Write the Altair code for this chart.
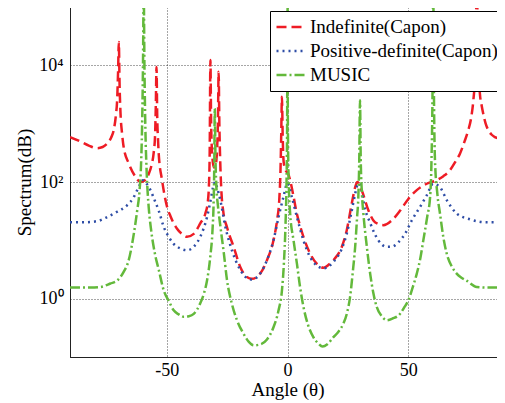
import altair as alt
import pandas as pd

series_names = ["Indefinite(Capon)", "Positive-definite(Capon)", "MUSIC"]
colors = ["#ee1c25", "#2e4da6", "#63b93b"]
dashes = [[10, 5], [2, 4], [10, 3, 2, 3]]

x_ticks = [-50, 0, 50]
y_ticks = [1, 100, 10000]

# Indefinite (Capon): angle (deg) and log10 of spectrum
red_angle = [-90, -86, -82, -78.8, -76.5, -74.6, -73, -71.9, -71, -70.5, -70.1, -69.8, -69.5, -69.1,
             -68.5, -67.8, -65.7, -62.9, -60.9, -59, -57.4, -56.2, -55.4, -54.8, -54.5, -54.2, -53.9,
             -53.6, -53.3, -51.9, -49.8, -48.5, -45.7, -43.0, -41.6, -38.8, -36.1, -34.0, -33.0, -32.5,
             -32.2, -31.9, -31.6, -31.2, -30.5, -29.7, -29.1, -28.8, -28.5, -28.2, -27.8, -27.3, -26.6,
             -25.0, -22.3, -19.5, -16.8, -14.7, -11.3, -8.5, -5.8, -4.3, -3.4, -2.9, -2.6, -2.3, -2.0,
             -1.6, -0.8, 0.2, 1.1, 2.5, 3.9, 5.2, 6.6, 9.4, 12.1, 14.9, 17.0, 19.0, 22.5, 24.5, 26.6,
             28.0, 28.9, 30.7, 33.5, 36.2, 39.7, 43.1, 46.6, 50.0, 53.5, 57.6, 61.7, 64.5, 67.2, 69.5,
             71.4, 73.3, 74.8, 76.0, 76.9, 77.7, 78.3, 79.0, 79.6, 80.3, 81.0, 82.0, 83.1, 84.5, 85.8,
             87.5, 90]
red_exp = [2.77, 2.70, 2.62, 2.58, 2.60, 2.66, 2.76, 2.89, 3.15, 3.40, 3.90, 4.40, 3.70, 3.18,
           2.85, 2.60, 2.32, 2.09, 2.00, 2.03, 2.14, 2.30, 2.49, 2.80, 3.30, 3.97, 3.10,
           2.75, 2.49, 2.03, 1.57, 1.42, 1.20, 1.09, 1.06, 1.11, 1.29, 1.46, 1.65, 1.95,
           2.50, 4.09, 3.00, 2.50, 2.25, 2.30, 2.60, 3.00, 3.89, 3.00, 2.30, 1.80, 1.50,
           1.22, 0.89, 0.54, 0.37, 0.34, 0.43, 0.66, 1.00, 1.35, 1.70, 2.20, 2.80, 3.46, 2.80,
           2.35, 2.20, 2.15, 2.03, 1.75, 1.45, 1.25, 1.06, 0.77, 0.60, 0.53, 0.58, 0.66, 0.89, 1.17, 1.63,
           1.91, 2.00, 1.86, 1.51, 1.31, 1.26, 1.34, 1.51, 1.71, 1.86, 1.97, 2.03, 2.10, 2.20, 2.35,
           2.49, 2.70, 2.89, 3.10, 3.40, 3.90, 5.30, 4.00, 3.52, 3.32, 3.17, 3.00, 2.89, 2.81, 2.77,
           2.75, 2.74]

# Positive-definite (Capon)
blue_angle = [-90, -84, -78.6, -74.6, -70.5, -66.4, -63.5, -62.2, -61.0, -59.8, -58.5, -56.7, -55.0,
              -53.3, -51.2, -49.0, -47.1, -44.3, -41.6, -38.8, -36.1, -33.3, -31.8, -30.8, -30.0,
              -29.2, -27.8, -25.7, -23.0, -19.5, -16.1, -14.7, -11.3, -8.5, -5.8, -3.7, -1.7, 0.0,
              1.8, 3.9, 6.6, 9.4, 12.1, 14.9, 19.0, 22.5, 24.5, 26.6, 28.0, 29.3, 30.7, 31.6, 34.2,
              37.6, 41.1, 43.1, 45.9, 48.6, 51.4, 54.8, 57.6, 60.3, 63.1, 65.9, 70.0, 75.5, 82.4, 90]
blue_exp = [1.31, 1.31, 1.33, 1.40, 1.49, 1.60, 1.75, 1.86, 1.96, 2.03, 1.98, 1.86, 1.69,
            1.51, 1.23, 1.05, 0.94, 0.86, 0.83, 0.89, 1.06, 1.40, 1.69, 1.91, 2.00,
            1.91, 1.69, 1.23, 0.83, 0.49, 0.34, 0.33, 0.43, 0.66, 1.00, 1.40, 1.74, 1.98,
            1.74, 1.40, 1.00, 0.71, 0.57, 0.52, 0.63, 0.86, 1.11, 1.51, 1.80, 1.98, 1.86, 1.63, 1.30,
            1.00, 0.89, 0.89, 0.97, 1.11, 1.34, 1.57, 1.77, 1.97, 1.91, 1.69, 1.46, 1.36, 1.31, 1.31]

# MUSIC
green_angle = [-90, -81.5, -77.4, -73.3, -70.5, -67.8, -65.7, -63.6, -62.2, -61.2, -60.6, -60.2,
               -59.8, -59.5, -59.2, -58.8, -58.3, -57.4, -56.5, -55.0, -53.3, -51.2, -49.0, -47.1,
               -45.0, -43.0, -40.8, -38.8, -36.1, -34.5, -33.3, -32.0, -31.0, -30.6, -30.3, -30.1,
               -29.8, -29.4, -28.8, -27.8, -26.4, -25.0, -23.0, -20.9, -18.2, -16.0, -14.0, -11.0,
               -8.5, -5.8, -3.7, -2.3, -1.5, -0.8, -0.4, -0.15, 0.0, 0.15, 0.5, 1.1, 2.5, 3.9, 5.2,
               6.6, 8.5, 10.7, 12.8, 14.5, 16.5, 19.0, 21.0, 23.1, 24.6, 25.9, 27.0, 28.0, 28.8,
               29.3, 29.7, 30.0, 30.3, 30.8, 31.4, 32.8, 34.2, 35.5, 36.9, 39.0, 41.1, 43.5, 46.6,
               48.3, 50.0, 51.7, 53.5, 55.0, 56.2, 57.8, 59.0, 59.6, 60.0, 60.3, 60.6, 61.0, 62.0,
               63.1, 64.5, 65.9, 68.0, 70.0, 72.0, 74.1, 78.3, 84.0, 90]
green_exp = [0.19, 0.19, 0.20, 0.26, 0.31, 0.46, 0.66, 1.11, 1.51, 1.86, 2.30, 2.90,
             4.00, 5.30, 4.00, 2.90, 2.20, 1.55, 1.20, 0.80, 0.50, 0.14, -0.05, -0.20,
             -0.27, -0.31, -0.30, -0.26, -0.08, 0.10, 0.31, 0.70, 1.20, 1.60, 2.30, 3.26,
             2.40, 1.90, 1.60, 1.25, 0.80, 0.31, -0.09, -0.37, -0.60, -0.74, -0.80, -0.78,
             -0.70, -0.49, -0.20, 0.14, 0.60, 1.30, 2.00, 3.00, 5.30, 3.00, 2.00, 1.46, 1.00, 0.60, 0.20,
             -0.14, -0.45, -0.66, -0.77, -0.82, -0.78, -0.66, -0.57, -0.43, -0.25, 0.03, 0.45, 0.89, 1.40,
             1.74, 2.40, 3.40, 2.40, 1.80, 1.46, 0.90, 0.43, 0.10, -0.14, -0.30, -0.37, -0.34, -0.26,
             -0.15, -0.03, 0.18, 0.43, 0.70, 1.00, 1.40, 1.74, 2.40, 3.50, 5.30, 3.50, 2.40, 1.80,
             1.46, 1.05, 0.77, 0.55, 0.43, 0.36, 0.31, 0.20, 0.19, 0.19]

rows = []
for name, angs, exps in zip(series_names,
                            [red_angle, blue_angle, green_angle],
                            [red_exp, blue_exp, green_exp]):
    for a, e in zip(angs, exps):
        rows.append({"angle": a, "spectrum": 10 ** e, "series": name})
df = pd.DataFrame(rows)

font = "Liberation Serif"

legend_opts = dict(
    title=None, orient="none", legendX=200, legendY=4,
    strokeColor="#000", fillColor="#fff", padding=5, cornerRadius=0,
    labelFont=font, labelFontSize=19, labelColor="#000", labelLimit=400,
    symbolType="stroke", symbolSize=841, symbolStrokeWidth=2.5,
    labelOffset=3, clipHeight=22, rowPadding=2,
)

base = alt.Chart(df).mark_line(strokeWidth=2.5, clip=True, interpolate="monotone").encode(
    x=alt.X("angle:Q",
            scale=alt.Scale(domain=[-90, 90], nice=False, zero=False),
            axis=alt.Axis(title="Angle (θ)", values=x_ticks, labelExpr="'' + datum.value",
                          labelFont=font, titleFont=font, titleBaseline="alphabetic", titleY=38)),
    y=alt.Y("spectrum:Q",
            scale=alt.Scale(type="log", domain=[0.1, 100000], nice=False),
            axis=alt.Axis(title="Spectrum(dB)", values=y_ticks,
                          labelExpr="datum.value == 1 ? '10⁰' : datum.value == 100 ? '10²' : '10⁴'",
                          labelFont=font, titleFont=font)),
    color=alt.Color("series:N", scale=alt.Scale(domain=series_names, range=colors),
                    legend=alt.Legend(**legend_opts)),
    strokeDash=alt.StrokeDash("series:N", scale=alt.Scale(domain=series_names, range=dashes),
                              legend=alt.Legend(**legend_opts)),
)

chart = alt.layer(
    *[base.transform_filter(alt.datum.series == n) for n in series_names]
).properties(
    width=435, height=350,
    autosize=alt.AutoSizeParams(type="none"),
    padding={"left": 62, "top": -1, "right": -8, "bottom": 45},
).configure(
    font=font
).configure_view(
    stroke="#111", strokeWidth=1
).configure_axis(
    grid=True, gridColor="#000", gridDash=[1, 2], gridWidth=0.7, gridOpacity=1,
    domainColor="#222", domainWidth=1, ticks=False, tickSize=0,
    labelFont=font, labelFontSize=18, labelColor="#000",
    titleFont=font, titleFontSize=19, titleFontWeight="normal", titleColor="#000",
    labelPadding=4
).configure_axisY(
    labelPadding=7, titlePadding=4
).configure_legend(
    labelFont=font, strokeWidth=1
)

chart.save("out.html", embed_options={"renderer": "svg", "actions": False})
